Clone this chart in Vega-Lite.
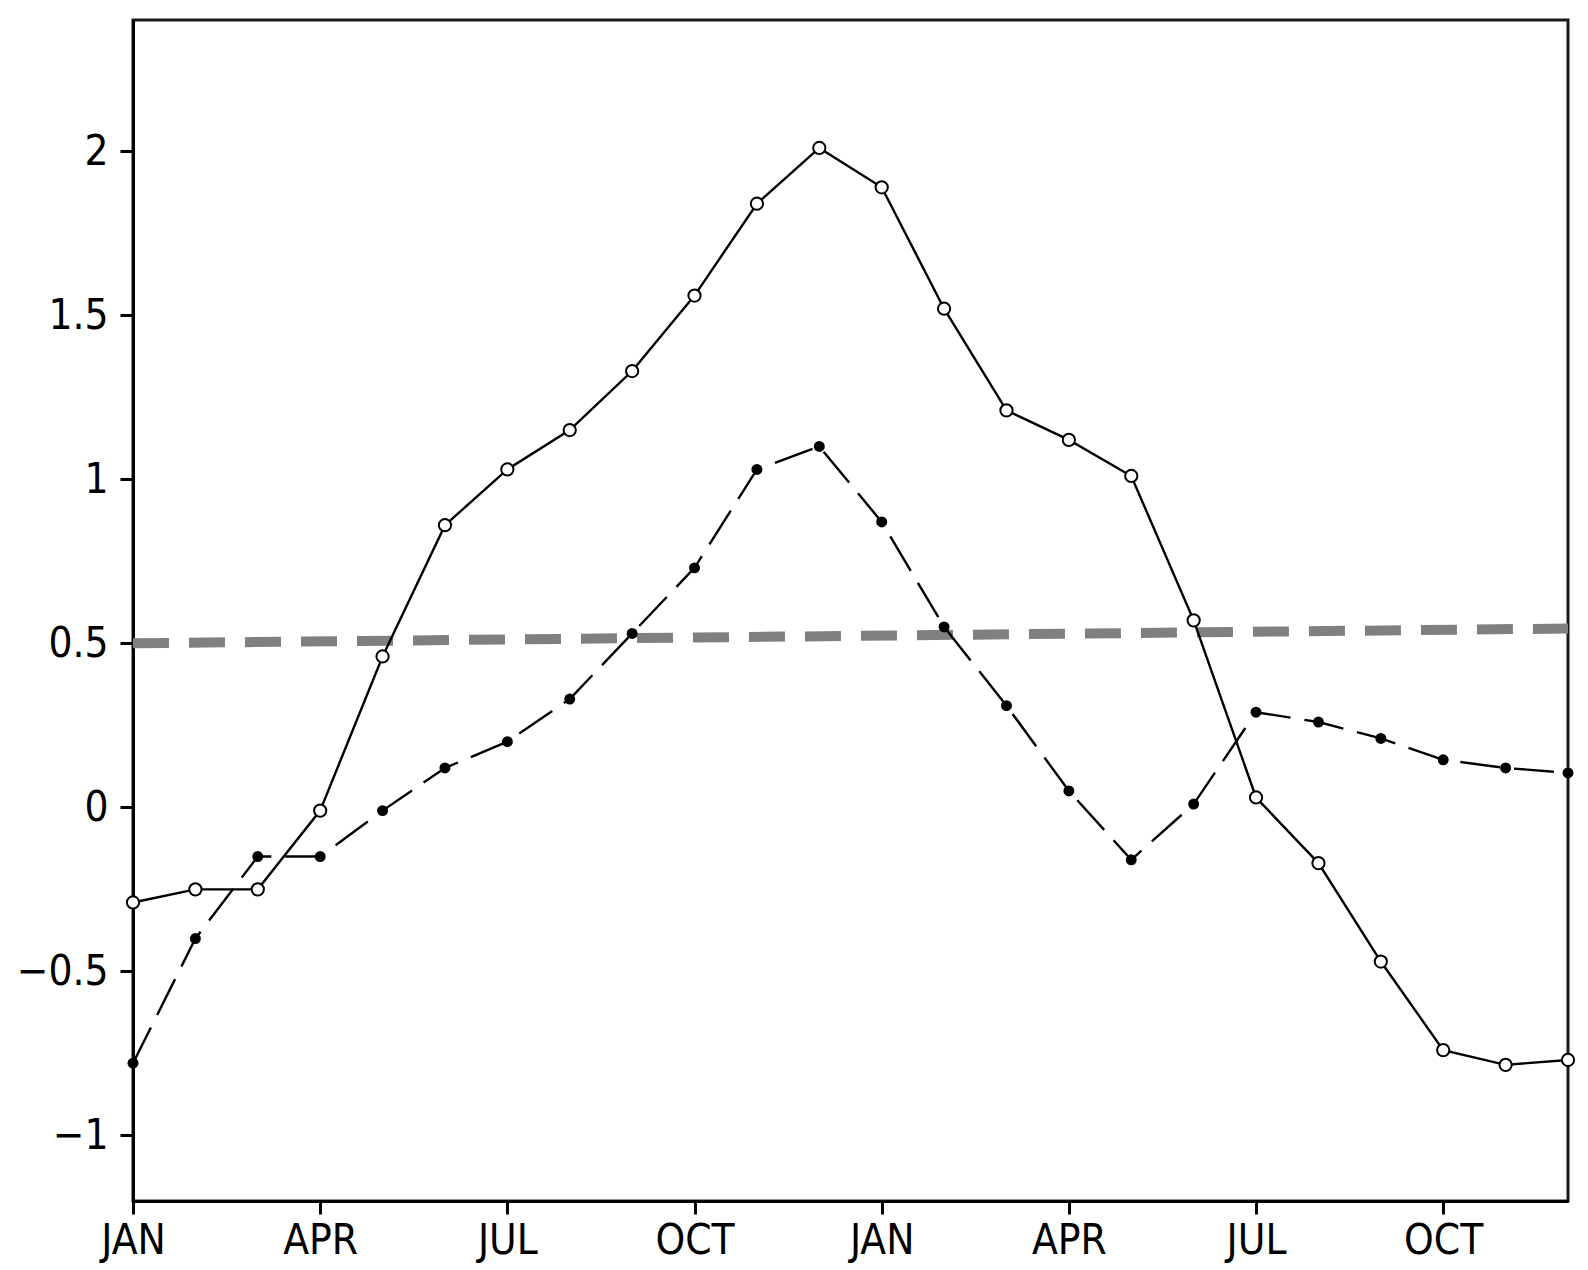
{
  "$schema": "https://vega.github.io/schema/vega-lite/v6.json",
  "width": 1435,
  "height": 1181,
  "autosize": "none",
  "padding": {"left": 133, "top": 20, "right": 20, "bottom": 69},
  "background": "white",
  "config": {
    "view": {"stroke": "#1a1a1a", "strokeWidth": 3},
    "axis": {
      "grid": false,
      "domainColor": "#000000",
      "domainWidth": 3,
      "tickColor": "#000000",
      "tickWidth": 3,
      "tickSize": 13,
      "labelFont": "Liberation Sans Narrow, DejaVu Sans Condensed, sans-serif",
      "labelFontSize": 42,
      "labelColor": "#000000",
      "title": null
    }
  },
  "datasets": {
    "series": [
      {"m": 0, "a": -0.29, "b": -0.78},
      {"m": 1, "a": -0.25, "b": -0.40},
      {"m": 2, "a": -0.25, "b": -0.15},
      {"m": 3, "a": -0.01, "b": -0.15},
      {"m": 4, "a": 0.46, "b": -0.01},
      {"m": 5, "a": 0.86, "b": 0.12},
      {"m": 6, "a": 1.03, "b": 0.20},
      {"m": 7, "a": 1.15, "b": 0.33},
      {"m": 8, "a": 1.33, "b": 0.53},
      {"m": 9, "a": 1.56, "b": 0.73},
      {"m": 10, "a": 1.84, "b": 1.03},
      {"m": 11, "a": 2.01, "b": 1.10},
      {"m": 12, "a": 1.89, "b": 0.87},
      {"m": 13, "a": 1.52, "b": 0.55},
      {"m": 14, "a": 1.21, "b": 0.31},
      {"m": 15, "a": 1.12, "b": 0.05},
      {"m": 16, "a": 1.01, "b": -0.16},
      {"m": 17, "a": 0.57, "b": 0.01},
      {"m": 18, "a": 0.03, "b": 0.29},
      {"m": 19, "a": -0.17, "b": 0.26},
      {"m": 20, "a": -0.47, "b": 0.21},
      {"m": 21, "a": -0.74, "b": 0.145},
      {"m": 22, "a": -0.785, "b": 0.12},
      {"m": 23, "a": -0.77, "b": 0.105}
    ],
    "threshold": [
      {"m": 0, "t": 0.5},
      {"m": 23, "t": 0.545}
    ]
  },
  "encoding": {
    "x": {
      "field": "m",
      "type": "quantitative",
      "scale": {"domain": [0, 23], "nice": false, "zero": false},
      "axis": {
        "values": [0, 3, 6, 9, 12, 15, 18, 21],
        "labelExpr": "['JAN','APR','JUL','OCT'][(datum.value/3)%4]",
        "labelPadding": 6,
        "labelFlush": false
      }
    }
  },
  "layer": [
    {
      "data": {"name": "threshold"},
      "mark": {"type": "line", "color": "#808080", "strokeWidth": 10, "strokeDash": [36, 20]},
      "encoding": {
        "y": {
          "field": "t",
          "type": "quantitative",
          "scale": {"domain": [-1.2, 2.4], "nice": false, "zero": false},
          "axis": {
            "values": [-1, -0.5, 0, 0.5, 1, 1.5, 2],
            "format": "~g",
            "labelPadding": 12
          }
        }
      }
    },
    {
      "data": {"name": "series"},
      "mark": {"type": "line", "color": "#000000", "strokeWidth": 2.4},
      "encoding": {"y": {"field": "a", "type": "quantitative"}}
    },
    {
      "data": {"name": "series"},
      "mark": {"type": "line", "color": "#000000", "strokeWidth": 2.4, "strokeDash": [40, 14]},
      "encoding": {"y": {"field": "b", "type": "quantitative"}}
    },
    {
      "data": {"name": "series"},
      "mark": {"type": "point", "shape": "circle", "filled": false, "fill": "white", "fillOpacity": 1, "stroke": "#000000", "strokeWidth": 2, "opacity": 1, "size": 150},
      "encoding": {"y": {"field": "a", "type": "quantitative"}}
    },
    {
      "data": {"name": "series"},
      "mark": {"type": "point", "shape": "circle", "filled": true, "color": "#000000", "opacity": 1, "size": 120},
      "encoding": {"y": {"field": "b", "type": "quantitative"}}
    }
  ]
}
